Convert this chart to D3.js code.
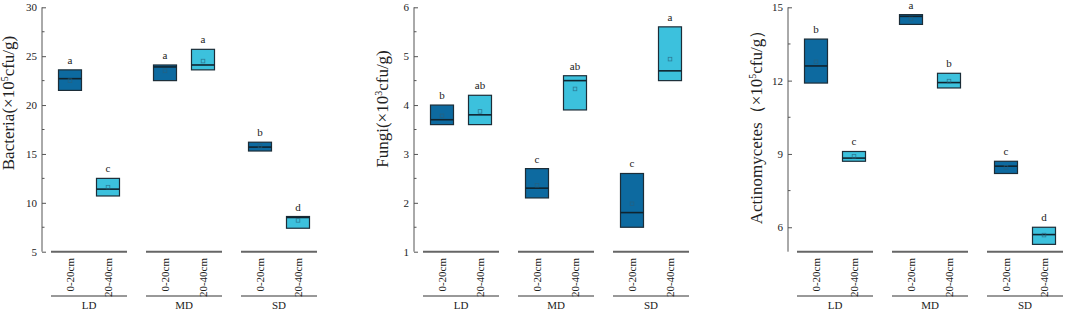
<!DOCTYPE html>
<html><head><meta charset="utf-8">
<script src="https://cdn.jsdelivr.net/npm/d3@7"></script>
<style>body{margin:0;background:#fff}svg{display:block}text{font-family:"Liberation Serif",Tinos,"Times New Roman",Times,serif !important;fill:#222}</style>
</head><body><svg id="c" width="1065" height="310"></svg>
<script>
const groups = ["LD","MD","SD"];
const depths = ["0-20cm","20-40cm"];
// order: LD 0-20, LD 20-40, MD 0-20, MD 20-40, SD 0-20, SD 20-40
const bacteriaQ3 = [23.6, 12.5, 24.1, 25.7, 16.2, 8.6];
const bacteriaQ1 = [21.5, 10.7, 22.5, 23.6, 15.3, 7.4];
const bacteriaMedian = [22.7, 11.4, 23.9, 24.1, 15.7, 8.5];
const bacteriaMean = [22.5, 11.6, 23.5, 24.5, 15.8, 8.2];
const bacteriaLetters = ["a","c","a","a","b","d"];
const bacteriaTicks = [5,10,15,20,25,30];

const fungiQ3 = [4.0, 4.2, 2.7, 4.6, 2.6, 5.6];
const fungiQ1 = [3.6, 3.6, 2.1, 3.9, 1.5, 4.5];
const fungiMedian = [3.7, 3.8, 2.3, 4.5, 1.8, 4.7];
const fungiMean = [3.78, 3.87, 2.36, 4.33, 1.98, 4.94];
const fungiLetters = ["b","ab","c","ab","c","a"];
const fungiTicks = [1,2,3,4,5,6];

const actinoQ3 = [13.7, 9.1, 14.7, 12.3, 8.7, 6.0];
const actinoQ1 = [11.9, 8.7, 14.3, 11.7, 8.2, 5.3];
const actinoMedian = [12.6, 8.83, 14.63, 11.92, 8.5, 5.7];
const actinoMean = [12.77, 8.9, 14.52, 11.98, 8.45, 5.68];
const actinoLetters = ["b","c","a","b","c","d"];
const actinoTicks = [6,9,12,15];

const colors = {"0-20cm":"#0d6aa0","20-40cm":"#3cc1dd"};

const panels = [
  {ax:42, domain:[5,30], ticks:bacteriaTicks, minorStep:2.5, q1:bacteriaQ1, q3:bacteriaQ3, med:bacteriaMedian, mean:bacteriaMean, letters:bacteriaLetters,
   title:["Bacteria(×10","5","cfu/g)"], tx:14, ty:103},
  {ax:414, domain:[1,6], ticks:fungiTicks, minorStep:0.5, q1:fungiQ1, q3:fungiQ3, med:fungiMedian, mean:fungiMean, letters:fungiLetters,
   title:["Fungi(×10","3","cfu/g)"], tx:388, ty:109},
  {ax:788, domain:[5,15], ticks:actinoTicks, minorStep:1.5, minorStart:4.5, q1:actinoQ1, q3:actinoQ3, med:actinoMedian, mean:actinoMean, letters:actinoLetters,
   title:["Actinomycetes（×10","5","cfu/g）"], tx:762, ty:123}
];

const svg = d3.select("#c");
const yTop = 7.3, yBot = 251.7;

panels.forEach(p => {
  const g = svg.append("g");
  const y = d3.scaleLinear().domain(p.domain).range([yBot, yTop]);
  const gx = d3.scaleBand().domain(groups).range([p.ax + 9, p.ax + 9 + 266]).paddingInner(0.2).paddingOuter(0);
  const dx = d3.scalePoint().domain(depths).range([0, gx.bandwidth()]).padding(0.5);
  const bw = 23;

  const axis = d3.axisRight(y).tickValues(p.ticks).tickSize(4).tickFormat(d3.format("d"));
  const ag = g.append("g").attr("transform", `translate(${p.ax},0)`).call(axis);
  ag.attr("font-family", null);
  ag.select(".domain").attr("stroke","#555").attr("d", `M0,${yTop}V${yBot}`);
  ag.selectAll(".tick line").attr("stroke","#555");
  ag.selectAll(".tick text").attr("x",-5).attr("text-anchor","end").attr("font-size",11).attr("fill","#222");
  const minors = [];
  const start = p.minorStart !== undefined ? p.minorStart : p.domain[0];
  for (let v = start; v <= p.domain[1] + 1e-9; v += p.minorStep) {
    if (v >= p.domain[0] && !p.ticks.some(t => Math.abs(t - v) < 1e-6)) minors.push(v);
  }
  g.selectAll(".minor").data(minors).join("line")
    .attr("x1", p.ax).attr("x2", p.ax + 2.5)
    .attr("y1", d => y(d)).attr("y2", d => y(d))
    .attr("stroke","#555");

  const t = g.append("text").attr("transform", `translate(${p.tx},${p.ty}) rotate(-90)`)
    .attr("text-anchor","middle").attr("font-size",17);
  t.append("tspan").text(p.title[0]);
  t.append("tspan").attr("dy",-6).attr("font-size",10).text(p.title[1]);
  t.append("tspan").attr("dy",6).text(p.title[2]);

  groups.forEach(gr => {
    const x0 = gx(gr), x1 = gx(gr) + gx.bandwidth();
    g.append("line").attr("x1",x0).attr("x2",x1).attr("y1",yBot).attr("y2",yBot).attr("stroke","#666").attr("stroke-width",2);
    g.append("line").attr("x1",x0).attr("x2",x1).attr("y1",296).attr("y2",296).attr("stroke","#333").attr("stroke-width",1);
    g.append("text").attr("x",(x0+x1)/2).attr("y",309).attr("text-anchor","middle").attr("font-size",11).text(gr);
    depths.forEach(dp => {
      const cx = x0 + dx(dp);
      g.append("text").attr("transform",`translate(${cx+4},258) rotate(-90)`).attr("text-anchor","end").attr("font-size",11).text(dp);
    });
  });

  const items = [];
  groups.forEach((gr, gi) => depths.forEach((dp, di) => items.push({gr, dp, i: gi*2 + di})));
  items.forEach(it => {
    const cx = gx(it.gr) + dx(it.dp);
    const top = y(p.q3[it.i]), bot = y(p.q1[it.i]);
    g.append("rect").attr("x", cx - bw/2).attr("y", top).attr("width", bw).attr("height", bot - top)
      .attr("fill", colors[it.dp]).attr("stroke","#1c2d38").attr("stroke-width",1.2);
    g.append("line").attr("x1", cx - bw/2).attr("x2", cx + bw/2).attr("y1", y(p.med[it.i])).attr("y2", y(p.med[it.i]))
      .attr("stroke","#10242f").attr("stroke-width",1.6);
    g.append("rect").attr("x", cx - 1.8).attr("y", y(p.mean[it.i]) - 1.8).attr("width",3.6).attr("height",3.6)
      .attr("fill","none").attr("stroke","#2a5f7a").attr("stroke-width",0.8).attr("opacity",0.7);
    g.append("text").attr("x", cx).attr("y", top - 6).attr("text-anchor","middle").attr("font-size",11).text(p.letters[it.i]);
  });
});
</script></body></html>
